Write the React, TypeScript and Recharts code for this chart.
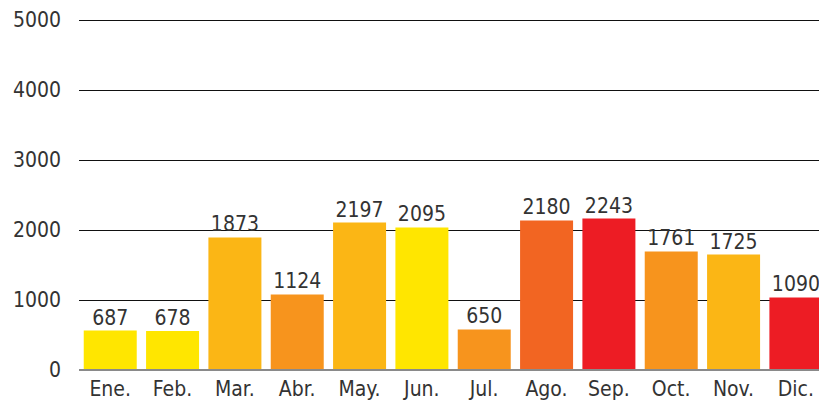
import { Bar, BarChart, CartesianGrid, Cell, LabelList, XAxis, YAxis } from "recharts";

const MONTHS = ["Ene.", "Feb.", "Mar.", "Abr.", "May.", "Jun.", "Jul.", "Ago.", "Sep.", "Oct.", "Nov.", "Dic."];

// printed value labels
const LABELS = [687, 678, 1873, 1124, 2197, 2095, 650, 2180, 2243, 1761, 1725, 1090];

// bar heights as drawn in the picture (they don't follow the labels exactly)
const HEIGHTS = [564, 556, 1893, 1079, 2107, 2036, 579, 2136, 2164, 1693, 1650, 1036];

const COLORS = [
  "#FFE600",
  "#FFE600",
  "#FBB615",
  "#F7941D",
  "#FBB615",
  "#FFE600",
  "#F7941D",
  "#F26522",
  "#ED1C24",
  "#F7941D",
  "#FBB615",
  "#ED1C24",
];

const Y_TICKS = [0, 1000, 2000, 3000, 4000, 5000];

const data = MONTHS.map((month, i) => ({ month, value: HEIGHTS[i], label: LABELS[i] }));

const FONT = "'DejaVu Sans Condensed', 'Liberation Sans', sans-serif";
const TEXT = { fill: "#333", fontSize: 21, fontFamily: FONT };

export default function App() {
  return (
    <div style={{ width: 819, height: 397, fontFamily: FONT }}>
      <BarChart
        width={819}
        height={397}
        data={data}
        margin={{ top: 12, right: 0, bottom: 0, left: 0 }}
        barCategoryGap="7.6%"
        accessibilityLayer={false}
      >
        <CartesianGrid vertical={false} stroke="#111" strokeWidth={1} shapeRendering="crispEdges" />
        <XAxis
          dataKey="month"
          height={35}
          axisLine={{ stroke: "#8a8a8a", strokeWidth: 2 }}
          tickLine={false}
          tickMargin={5}
          interval={0}
          tick={TEXT}
        />
        <YAxis
          width={71}
          domain={[0, 5000]}
          ticks={Y_TICKS}
          axisLine={false}
          tickLine={false}
          tickMargin={12}
          tick={TEXT}
        />
        <Bar dataKey="value" isAnimationActive={false}>
          {data.map((d, i) => (
            <Cell key={d.month} fill={COLORS[i]} />
          ))}
          <LabelList dataKey="label" position="top" offset={6} style={TEXT} />
        </Bar>
      </BarChart>
    </div>
  );
}
